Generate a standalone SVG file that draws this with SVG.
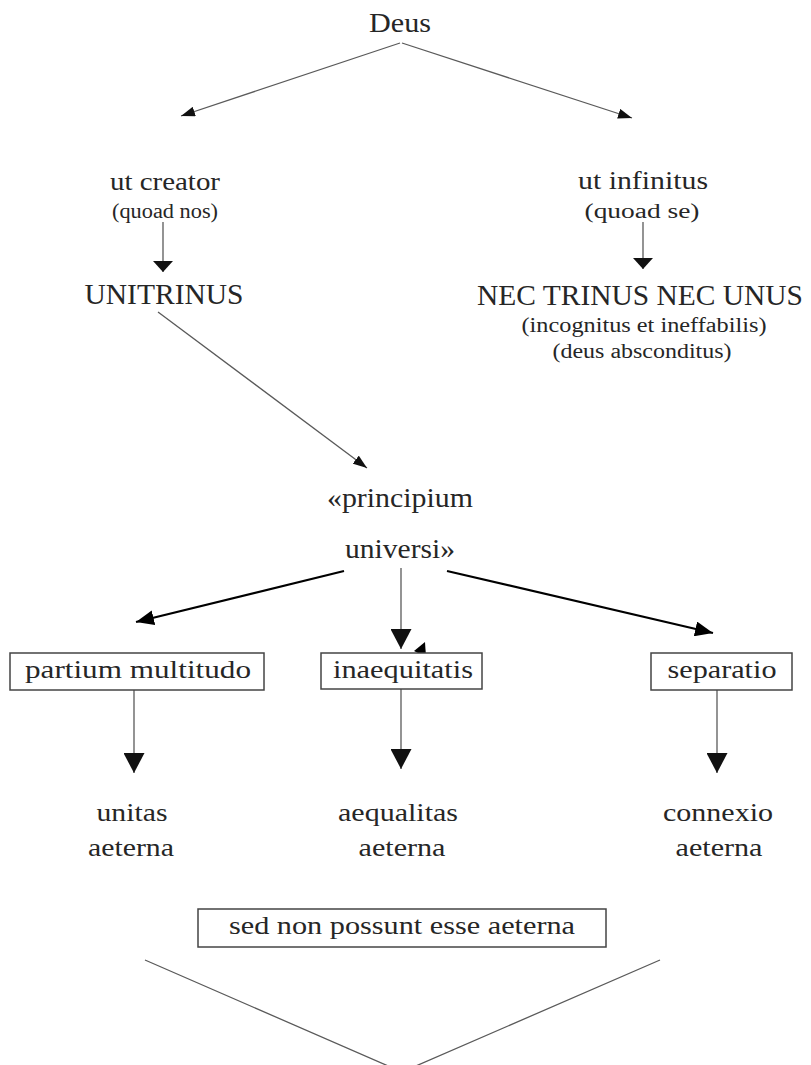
<svg xmlns="http://www.w3.org/2000/svg" width="811" height="1065" viewBox="0 0 811 1065">
<defs>
<style>
text{font-family:"Liberation Serif","Times New Roman",serif;fill:#262626;text-anchor:middle}
.l{font-size:26px}.xl{font-size:29px}.s{font-size:20px}.m{font-size:27px}.d{font-size:28px}
.thin{stroke:#5a5a5a;stroke-width:1.3;fill:none}
.thick{stroke:#000;stroke-width:2.2;fill:none}
.box{fill:#fff;stroke:#444;stroke-width:1.5}
</style>
<marker id="aS" markerUnits="userSpaceOnUse" markerWidth="14" markerHeight="10" refX="14" refY="5" orient="auto"><path d="M0,0L14,5L0,10z" fill="#111"/></marker>
<marker id="aF" markerUnits="userSpaceOnUse" markerWidth="11" markerHeight="20" refX="11" refY="10" orient="auto"><path d="M0,0L11,10L0,20z" fill="#111"/></marker>
<marker id="aM" markerUnits="userSpaceOnUse" markerWidth="18" markerHeight="15" refX="18" refY="7.5" orient="auto"><path d="M0,0L18,7.5L0,15z" fill="#000"/></marker>
<marker id="aB" markerUnits="userSpaceOnUse" markerWidth="20" markerHeight="21" refX="20" refY="10.5" orient="auto"><path d="M0,0L20,10.5L0,21z" fill="#111"/></marker>
</defs>
<rect width="811" height="1065" fill="#fff"/>
<g id="connectors">
<line class="thin" x1="400" y1="43" x2="181" y2="116" marker-end="url(#aS)"/>
<line class="thin" x1="402" y1="43" x2="632" y2="118" marker-end="url(#aS)"/>
<line class="thin" x1="163" y1="222" x2="163" y2="272" marker-end="url(#aF)"/>
<line class="thin" x1="643" y1="222" x2="643" y2="269" marker-end="url(#aF)"/>
<line class="thin" x1="158" y1="312" x2="367" y2="468" marker-end="url(#aS)"/>
<line class="thick" x1="344" y1="571" x2="136" y2="622" marker-end="url(#aM)"/>
<line class="thin" x1="401" y1="568" x2="401" y2="649" marker-end="url(#aB)"/>
<line class="thick" x1="447" y1="571" x2="713" y2="633" marker-end="url(#aM)"/>
<polygon points="414,651 425,642 426,657" fill="#000"/>
<line class="thin" x1="134" y1="690" x2="134" y2="773" marker-end="url(#aB)"/>
<line class="thin" x1="401" y1="689" x2="401" y2="769" marker-end="url(#aB)"/>
<line class="thin" x1="717" y1="690" x2="717" y2="773" marker-end="url(#aB)"/>
<polyline class="thin" points="145,960 402,1072 660,960"/>
</g>
<g id="deus"><text class="d" x="400" y="32" textLength="62" lengthAdjust="spacingAndGlyphs">Deus</text></g>
<g id="creator">
<text class="l" x="165" y="190" textLength="110" lengthAdjust="spacingAndGlyphs">ut creator</text>
<text class="s" x="165" y="218" textLength="106" lengthAdjust="spacingAndGlyphs">(quoad nos)</text>
</g>
<g id="infinitus">
<text class="l" x="643" y="189" textLength="130" lengthAdjust="spacingAndGlyphs">ut infinitus</text>
<text class="s" x="642" y="218" textLength="115" lengthAdjust="spacingAndGlyphs">(quoad se)</text>
</g>
<g id="unitrinus"><text class="xl" x="164" y="304" textLength="159" lengthAdjust="spacingAndGlyphs">UNITRINUS</text></g>
<g id="nec">
<text class="xl" x="640" y="305" textLength="326" lengthAdjust="spacingAndGlyphs">NEC TRINUS NEC UNUS</text>
<text class="s" x="644" y="332" textLength="245" lengthAdjust="spacingAndGlyphs">(incognitus et ineffabilis)</text>
<text class="s" x="642" y="358" textLength="179" lengthAdjust="spacingAndGlyphs">(deus absconditus)</text>
</g>
<g id="principium">
<text class="m" x="400" y="507" textLength="146" lengthAdjust="spacingAndGlyphs">«principium</text>
<text class="m" x="400" y="558" textLength="110" lengthAdjust="spacingAndGlyphs">universi»</text>
</g>
<g id="multitudo">
<rect class="box" x="10" y="653" width="254" height="37"/>
<text class="l" x="138" y="678" textLength="226" lengthAdjust="spacingAndGlyphs">partium multitudo</text>
</g>
<g id="inaequitatis">
<rect class="box" x="321" y="653" width="161" height="36"/>
<text class="l" x="403" y="678" textLength="140" lengthAdjust="spacingAndGlyphs">inaequitatis</text>
</g>
<g id="separatio">
<rect class="box" x="651" y="653" width="141" height="37"/>
<text class="l" x="722" y="678" textLength="109" lengthAdjust="spacingAndGlyphs">separatio</text>
</g>
<g id="unitas">
<text class="l" x="132" y="821" textLength="71" lengthAdjust="spacingAndGlyphs">unitas</text>
<text class="l" x="131" y="856" textLength="86" lengthAdjust="spacingAndGlyphs">aeterna</text>
</g>
<g id="aequalitas">
<text class="l" x="398" y="821" textLength="120" lengthAdjust="spacingAndGlyphs">aequalitas</text>
<text class="l" x="402" y="856" textLength="87" lengthAdjust="spacingAndGlyphs">aeterna</text>
</g>
<g id="connexio">
<text class="l" x="718" y="821" textLength="110" lengthAdjust="spacingAndGlyphs">connexio</text>
<text class="l" x="719" y="856" textLength="87" lengthAdjust="spacingAndGlyphs">aeterna</text>
</g>
<g id="sednon">
<rect class="box" x="198" y="909" width="408" height="38"/>
<text class="l" x="402" y="934" textLength="346" lengthAdjust="spacingAndGlyphs">sed non possunt esse aeterna</text>
</g>
</svg>
